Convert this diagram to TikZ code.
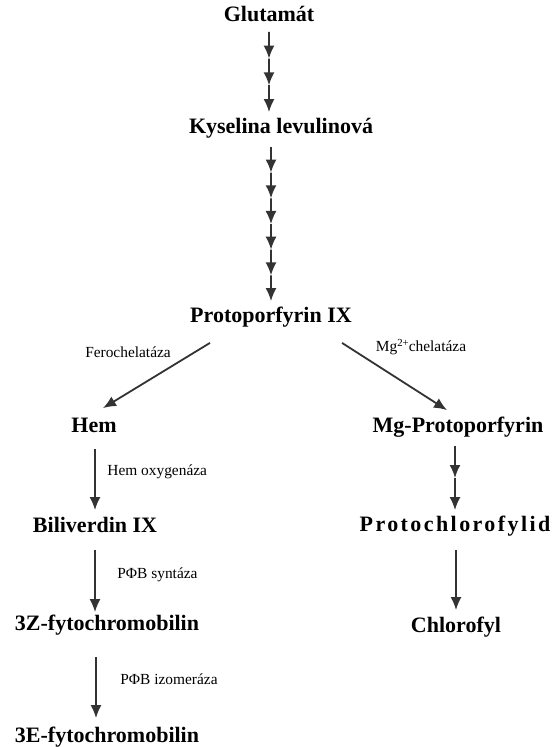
\documentclass[tikz,border=0pt]{standalone}
\usepackage{fontspec}
\setmainfont{Liberation Serif}
\usetikzlibrary{arrows.meta,calc}

\tikzset{
  compound/.style={font=\fontsize{11}{13}\selectfont\bfseries, inner sep=2.5pt, text height=8pt, text depth=2.5pt},
  enzyme/.style={font=\fontsize{7.7}{9}\selectfont, inner sep=0pt},
  reaction/.style={draw=black!80, line width=0.9pt, -{Latex[length=6.5pt,width=5.5pt]}}
}

\begin{document}
\begin{tikzpicture}[x=0.5pt,y=-0.5pt]
    \useasboundingbox (0,0) rectangle (555,747);

    % Main trunk
    \node[compound] (glu) at (269,16) {Glutamát};
    \node[compound] (kys) at (281,128) {Kyselina levulinová};
    \node[compound] (ppix) at (271,317) {Protoporfyrin IX};

    % Left branch (heme / phytochromobilin)
    \node[compound] (hem) at (94,427) {Hem};
    \node[compound] (bil) at (95,527) {Biliverdin IX};
    \node[compound] (zfy) at (107,625) {3Z-fytochromobilin};
    \node[compound] (efy) at (107,737) {3E-fytochromobilin};

    % Right branch (chlorophyll)
    \node[compound] (mgp) at (458,427) {Mg-Protoporfyrin};
    \node[compound, font=\fontsize{11}{13}\selectfont\bfseries\addfontfeatures{LetterSpace=11}] (pchl) at (455,526) {Protochlorofylid};
    \node[compound] (chl) at (456,627) {Chlorofyl};

    % Enzymes
    \node[enzyme] (fch) at (128,352) {Ferochelatáza};
    \node[enzyme] (mgch) at (421,347) {Mg\textsuperscript{2+}\kern-0.5pt chelatáza};
    \node[enzyme, anchor=west] (hox) at (107,472) {Hem oxygenáza};
    \node[enzyme, anchor=west] (pfs) at (117,575) {PΦB syntáza};
    \node[enzyme, anchor=west] (pfi) at (120,679) {PΦB izomeráza};

    % Chain start points
    \coordinate (kysout) at ($(ppix.north |- kys.south)+(0,3)$);
    \coordinate (mgpout) at ($(pchl.north |- mgp.south)+(0,3)$);

    % Multi-step chains
    \foreach \i in {1,2,3}
        \draw[reaction] ($(glu.south)!{(\i-1)/3}!(glu.south |- kys.north)$) -- ($(glu.south)!{\i/3}!(glu.south |- kys.north)$);
    \foreach \i in {1,...,6}
        \draw[reaction] ($(kysout)!{(\i-1)/6}!(ppix.north)$) -- ($(kysout)!{\i/6}!(ppix.north)$);
    \foreach \i in {1,2}
        \draw[reaction] ($(mgpout)!{(\i-1)/2}!(pchl.north)$) -- ($(mgpout)!{\i/2}!(pchl.north)$);

    % Branching
    \draw[reaction] ($(ppix.south)+(-61,10)$) -- ($(hem.north)+(9,-3)$);
    \draw[reaction] ($(ppix.south)+(71,10)$) -- ($(mgp.north)+(-11,-1)$);

    % Single steps
    \draw[reaction] ($(hem.south)+(1,6)$) -- ($(bil.north)+(0,-1)$);
    \draw[reaction] ($(bil.south)+(0,7)$) -- ($(bil.south |- zfy.north)+(0,3)$);
    \draw[reaction] ($(bil.south |- zfy.south)+(1,16)$) -- ($(bil.south |- efy.north)+(1,-3)$);
    \draw[reaction] ($(pchl.south)+(1,8)$) -- ($(pchl.south |- chl.north)+(1,-1)$);
\end{tikzpicture}
\end{document}
